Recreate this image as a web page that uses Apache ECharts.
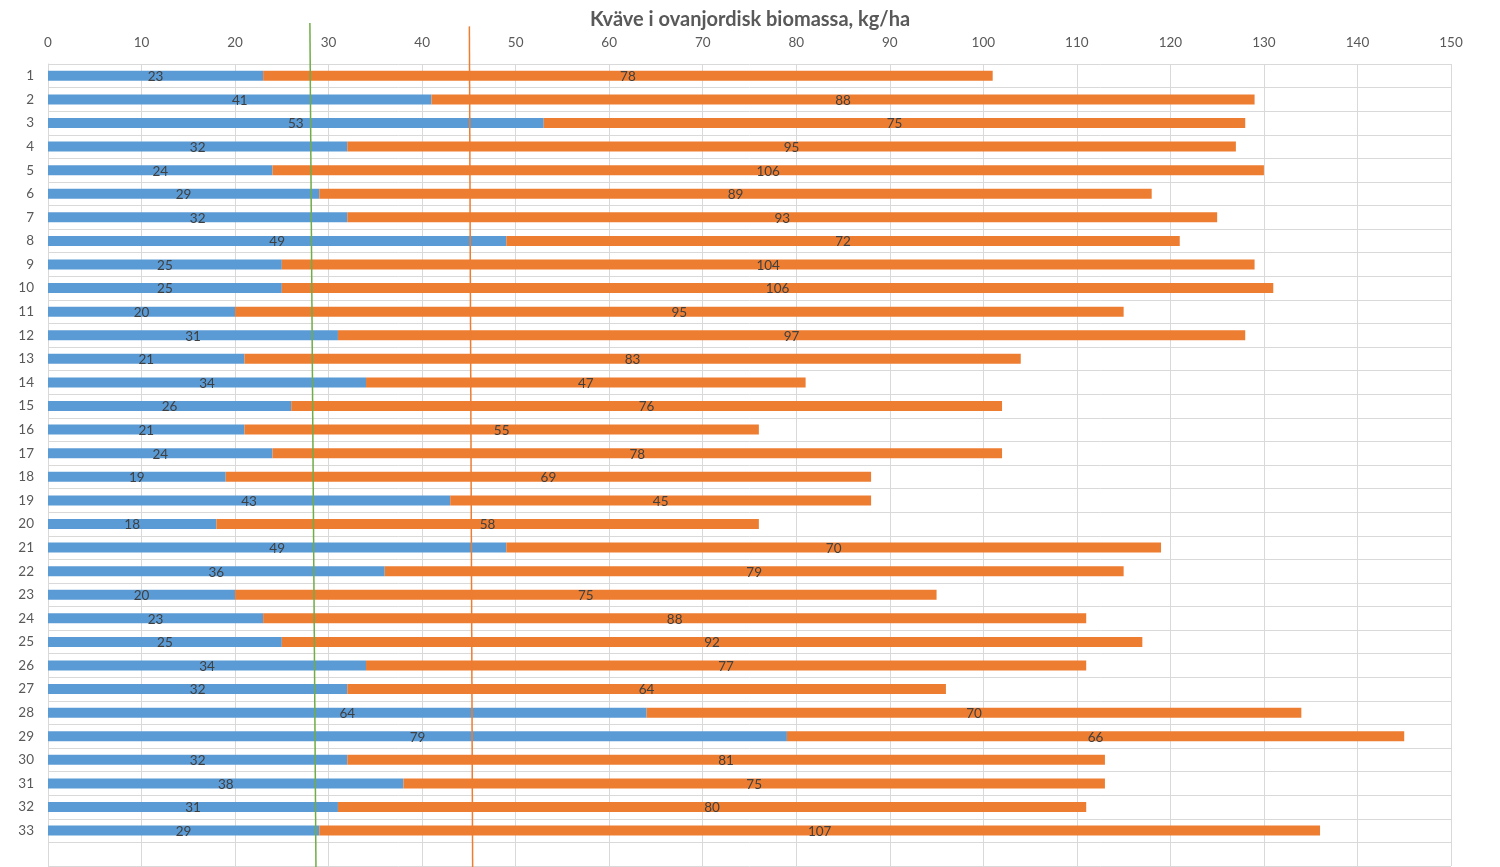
<!DOCTYPE html>
<html><head><meta charset="utf-8">
<script src="https://cdn.jsdelivr.net/npm/echarts@6/dist/echarts.min.js"></script>
<style>html,body{margin:0;padding:0;background:#fff}#c{width:1500px;height:867px}</style>
</head><body><div id="c"></div>
<script>
const categories = ['1','2','3','4','5','6','7','8','9','10','11','12','13','14','15','16','17','18','19','20','21','22','23','24','25','26','27','28','29','30','31','32','33',''];
const blueValues = [23,41,53,32,24,29,32,49,25,25,20,31,21,34,26,21,24,19,43,18,49,36,20,23,25,34,32,64,79,32,38,31,29,null];
const orangeValues = [78,88,75,95,106,89,93,72,104,106,95,97,83,47,76,55,78,69,45,58,70,79,75,88,92,77,64,70,66,81,75,80,107,null];
const greenLine = [[28.0,1],[28.65,0]];
const orangeLine = [[45.05,0.996],[45.4,0]];
const xTicks = {min:0,max:150,interval:10};

const font = 'Lato, "Open Sans", sans-serif';
const chart = echarts.init(document.getElementById('c'));
chart.setOption({
  animation:false,
  title:{text:'Kväve i ovanjordisk biomassa, kg/ha',left:'center',top:5,
    textStyle:{fontFamily:font,fontSize:20,fontWeight:'bold',color:'#595959'}},
  grid:[
    {left:48,right:49,top:64,bottom:1,containLabel:false},
    {left:48,right:49,top:23,bottom:0,containLabel:false}
  ],
  xAxis:[
    {type:'value',gridIndex:0,position:'top',min:xTicks.min,max:xTicks.max,interval:xTicks.interval,
     axisLine:{show:false},axisTick:{show:false},
     axisLabel:{fontFamily:font,fontSize:13.5,color:'#595959',margin:14},
     splitLine:{lineStyle:{color:'#d9d9d9',width:1}}},
    {type:'value',gridIndex:1,min:xTicks.min,max:xTicks.max,show:false}
  ],
  yAxis:[
    {type:'category',gridIndex:0,data:categories,inverse:true,
     axisLine:{show:true,lineStyle:{color:'#d9d9d9'}},axisTick:{show:false},
     axisLabel:{fontFamily:font,fontSize:13.5,color:'#595959',margin:14},
     splitLine:{show:true,lineStyle:{color:'#d9d9d9',width:1}}},
    {type:'value',gridIndex:1,min:0,max:1,show:false}
  ],
  series:[
    {type:'bar',stack:'n',data:blueValues,barWidth:10,xAxisIndex:0,yAxisIndex:0,
     itemStyle:{color:'#5B9BD5'},
     label:{show:true,position:'inside',fontFamily:font,fontSize:13.5,color:'#404040',offset:[0,1]}},
    {type:'bar',stack:'n',data:orangeValues,barWidth:10,xAxisIndex:0,yAxisIndex:0,
     itemStyle:{color:'#ED7D31'},
     label:{show:true,position:'inside',fontFamily:font,fontSize:13.5,color:'#404040',offset:[0,1]}},
    {type:'line',xAxisIndex:1,yAxisIndex:1,data:greenLine,symbol:'none',
     lineStyle:{color:'#70AD47',width:1.5},z:5},
    {type:'line',xAxisIndex:1,yAxisIndex:1,data:orangeLine,symbol:'none',
     lineStyle:{color:'#ED7D31',width:1.5},z:5}
  ]
});
</script></body></html>
